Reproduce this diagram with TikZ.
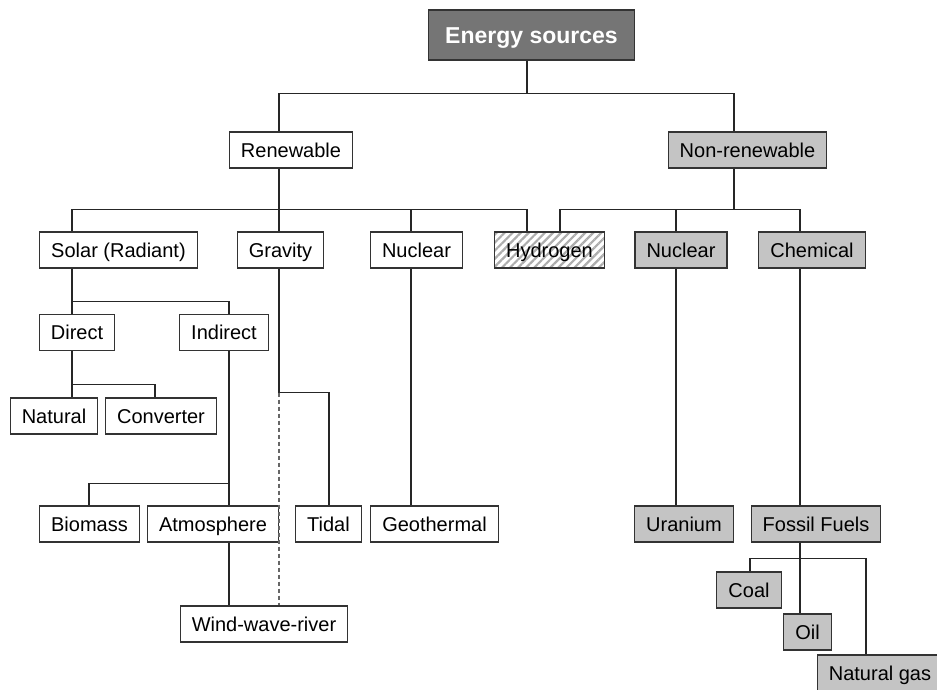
\documentclass[tikz,border=0pt]{standalone}
\usepackage{fontspec}
\setmainfont{Liberation Sans}
\usetikzlibrary{patterns.meta}

\begin{document}
\begin{tikzpicture}[
      x=1pt,y=-1pt,
      every node/.style={font=\fontsize{20}{24}\selectfont},
      box/.style={rectangle,draw=black!80,line width=1.1pt,inner xsep=11.5pt,inner ysep=0pt,
        minimum height=36pt,text height=16.5pt,text depth=2.5pt},
      box grey/.style={box,fill=black!23},
      box root/.style={box,fill=black!54,text=white,font=\fontsize{23}{27}\selectfont\bfseries,
        inner xsep=17pt,minimum height=50pt,text height=19.5pt,text depth=2.5pt},
      box hatched/.style={box,pattern={Lines[angle=45,distance=5.7pt,line width=2.2pt]},pattern color=black!32},
      link/.style={draw=black!85,line width=1.1pt},
      link dashed/.style={link,draw=black!60,dash pattern=on 4pt off 3pt},
    ]
    \useasboundingbox (0,0) rectangle (937,689);
    \node[box root] (Energy sources) at (531.5,35) {Energy sources};
    \node[box] (Renewable) at (291,150) {Renewable};
    \node[box grey] (Non-renewable) at (747.5,150) {Non-renewable};
    \node[box] (Solar) at (118.5,250) {Solar (Radiant)};
    \node[box] (Gravity) at (280.5,250) {Gravity};
    \node[box] (Nuclear renewable) at (416.5,250) {Nuclear};
    \node[box hatched] (Hydrogen) at (549.5,250) {Hydrogen};
    \node[box grey] (Nuclear fuel) at (681,250) {Nuclear};
    \node[box grey] (Chemical) at (812,250) {Chemical};
    \node[box] (Direct) at (77,332.5) {Direct};
    \node[box] (Indirect) at (224,332.5) {Indirect};
    \node[box] (Natural) at (54,416) {Natural};
    \node[box] (Converter) at (161,416) {Converter};
    \node[box] (Biomass) at (89.5,524) {Biomass};
    \node[box] (Atmosphere) at (213,524) {Atmosphere};
    \node[box] (Tidal) at (328.5,524) {Tidal};
    \node[box] (Geothermal) at (434.5,524) {Geothermal};
    \node[box] (Wind-wave-river) at (264,624) {Wind-wave-river};
    \node[box grey] (Uranium) at (684,524) {Uranium};
    \node[box grey] (Fossil Fuels) at (816,524) {Fossil Fuels};
    \node[box grey] (Coal) at (749,590) {Coal};
    \node[box grey] (Oil) at (807.5,632) {Oil};
    \node[box grey] (Natural gas) at (880,673) {Natural gas};
    \draw[link] ([xshift=-4.5pt]Energy sources.south) -- ++(0,33) -| ([xshift=-12pt]Renewable.north);
    \draw[link] ([xshift=-4.5pt]Energy sources.south) -- ++(0,33) -| ([xshift=-13.5pt]Non-renewable.north);
    \draw[link] ([xshift=-12pt]Renewable.south) -- ++(0,41) -| ([xshift=-46.5pt]Solar.north);
    \draw[link] ([xshift=-12pt]Renewable.south) -- ([xshift=-1.5pt]Gravity.north);
    \draw[link] ([xshift=-12pt]Renewable.south) -- ++(0,41) -| ([xshift=-5.5pt]Nuclear renewable.north);
    \draw[link] ([xshift=-12pt]Renewable.south) -- ++(0,41) -| ([xshift=-22.5pt]Hydrogen.north);
    \draw[link] ([xshift=-13.5pt]Non-renewable.south) -- ++(0,41) -| ([xshift=10.5pt]Hydrogen.north);
    \draw[link] ([xshift=-13.5pt]Non-renewable.south) -- ++(0,41) -| ([xshift=-5pt]Nuclear fuel.north);
    \draw[link] ([xshift=-13.5pt]Non-renewable.south) -- ++(0,41) -| ([xshift=-12pt]Chemical.north);
    \draw[link] ([xshift=-46.5pt]Solar.south) -- ([xshift=-5pt]Direct.north);
    \draw[link] ([xshift=-46.5pt]Solar.south) -- ++(0,33) -| ([xshift=5pt]Indirect.north);
    \draw[link] ([xshift=-5pt]Direct.south) -- ([xshift=18pt]Natural.north);
    \draw[link] ([xshift=-5pt]Direct.south) -- ++(0,33) -| ([xshift=-6pt]Converter.north);
    \draw[link] ([xshift=5pt]Indirect.south) -- ([xshift=16pt]Atmosphere.north);
    \draw[link] ([xshift=5pt]Indirect.south) -- ++(0,132) -| ([xshift=-0.5pt]Biomass.north);
    \draw[link] ([xshift=16pt]Atmosphere.south) -- ([xshift=-35pt]Wind-wave-river.north);
    \draw[link] ([xshift=-1.5pt]Gravity.south) -- ++(0,124) coordinate (Gravity split) -| ([xshift=0.5pt]Tidal.north);
    \draw[link dashed] (Gravity split) -- ([xshift=15pt]Wind-wave-river.north);
    \draw[link] ([xshift=-5.5pt]Nuclear renewable.south) -- ([xshift=-23.5pt]Geothermal.north);
    \draw[link] ([xshift=-5pt]Nuclear fuel.south) -- ([xshift=-8pt]Uranium.north);
    \draw[link] ([xshift=-12pt]Chemical.south) -- ([xshift=-16pt]Fossil Fuels.north);
    \draw[link] ([xshift=-16pt]Fossil Fuels.south) -- ++(0,16) -| ([xshift=1pt]Coal.north);
    \draw[link] ([xshift=-16pt]Fossil Fuels.south) -- ([xshift=-7.5pt]Oil.north);
    \draw[link] ([xshift=-16pt]Fossil Fuels.south) -- ++(0,16) -| ([xshift=-14pt]Natural gas.north);
\end{tikzpicture}
\end{document}
